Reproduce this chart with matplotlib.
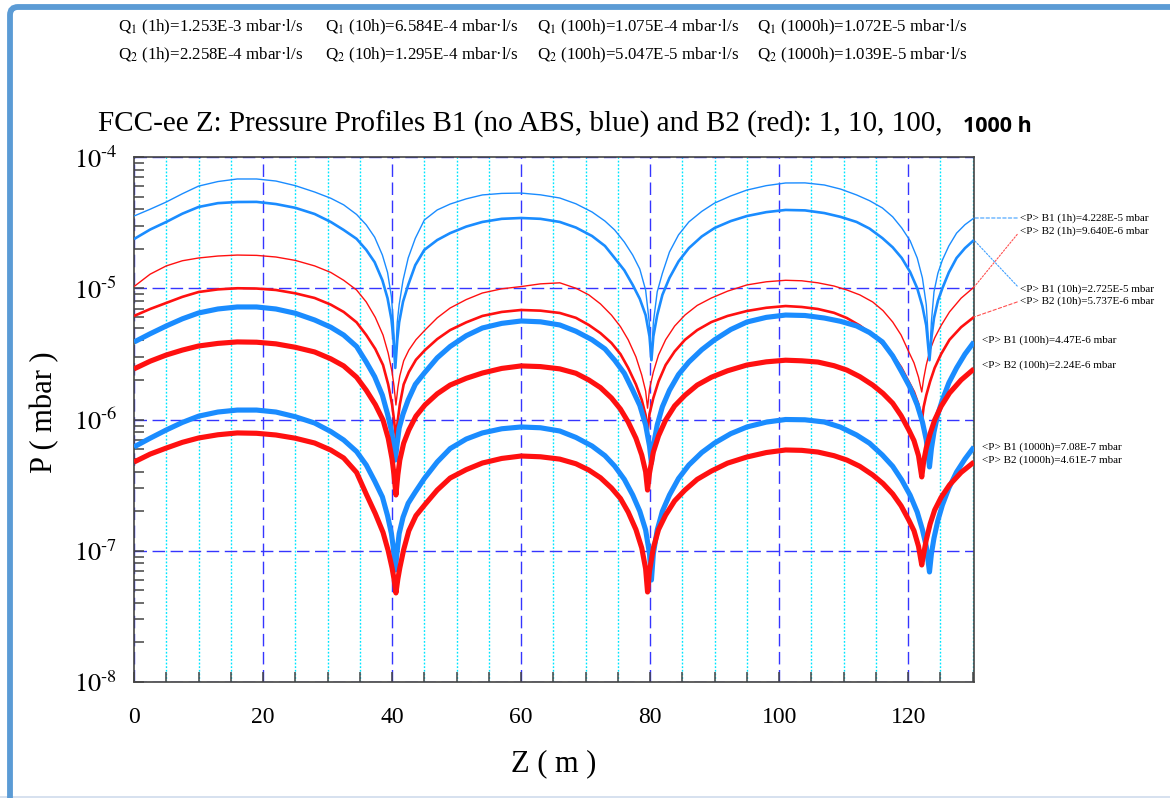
import matplotlib
matplotlib.use('Agg')
import matplotlib.pyplot as plt
from matplotlib.patches import FancyBboxPatch
from matplotlib.lines import Line2D
from matplotlib.transforms import IdentityTransform
from matplotlib.ticker import FixedLocator, LogLocator, NullFormatter, FixedFormatter

plt.rcParams['font.family'] = ['Liberation Serif', 'DejaVu Serif']
plt.rcParams['mathtext.fontset'] = 'stix'

# ---------------- data ----------------
z_b1 = [0, 2.5, 5, 7.5, 10, 13, 16, 19, 22, 25, 28, 30.5, 32.5, 34.5, 36, 37.3, 38.5, 39.3, 39.9, 40.2, 40.5,
        40.8, 41.1, 41.7, 42.5, 43.6, 45, 47, 49, 51.5, 54, 57, 60, 63, 66, 68.5, 71, 73, 74.5, 76, 77.3,
        78.4, 79.3, 79.9, 80.2,
        80.5, 81.1, 81.9, 83, 84.4, 86, 88, 90, 92.5, 95, 98, 101, 104, 107, 109.5, 112, 114, 116, 117.6,
        119, 120.3, 121.4, 122.2, 122.8, 123.3,
        123.6, 124.0, 124.6, 125.3, 126.3, 127.5, 128.8, 130.2]
b1_1h = [3.55e-5, 4.0e-5, 4.54e-5, 5.25e-5, 6.0e-5, 6.5e-5, 6.8e-5, 6.8e-5, 6.56e-5, 6.05e-5, 5.41e-5, 4.85e-5,
         4.32e-5, 3.65e-5, 3.04e-5, 2.45e-5, 1.79e-5, 1.32e-5, 8.6e-6, 5.5e-6, 2.74e-6,
         5.5e-6, 7.5e-6, 1.15e-5, 1.70e-5, 2.4e-5, 3.31e-5, 3.95e-5, 4.38e-5, 4.8e-5, 5.14e-5, 5.28e-5,
         5.31e-5, 5.15e-5, 4.87e-5, 4.4e-5, 3.81e-5, 3.25e-5, 2.78e-5, 2.25e-5, 1.79e-5, 1.4e-5, 9.7e-6,
         5.3e-6, 2.83e-6,
         5.5e-6, 9.4e-6, 1.3e-5, 1.89e-5, 2.55e-5, 3.2e-5, 3.85e-5, 4.46e-5, 5.05e-5, 5.6e-5, 6.05e-5,
         6.34e-5, 6.35e-5, 6.12e-5, 5.7e-5, 5.14e-5, 4.65e-5, 4.09e-5, 3.5e-5, 2.88e-5, 2.3e-5, 1.70e-5,
         1.2e-5, 7.5e-6, 2.94e-6,
         5.6e-6, 9.4e-6, 1.3e-5, 1.64e-5, 2.1e-5, 2.63e-5, 3.05e-5, 3.43e-5]
b1_10h = [2.37e-5, 2.8e-5, 3.2e-5, 3.7e-5, 4.16e-5, 4.45e-5, 4.54e-5, 4.55e-5, 4.38e-5, 4.1e-5, 3.68e-5,
          3.2e-5, 2.78e-5, 2.38e-5, 1.96e-5, 1.58e-5, 1.15e-5, 8.4e-6, 5.8e-6, 4.2e-6, 2.47e-6,
          4.0e-6, 5.5e-6, 7.9e-6, 1.06e-5, 1.5e-5, 1.96e-5, 2.33e-5, 2.63e-5, 2.95e-5, 3.2e-5, 3.38e-5,
          3.43e-5, 3.38e-5, 3.2e-5, 2.9e-5, 2.5e-5, 2.1e-5, 1.7e-5, 1.37e-5, 1.06e-5, 8.3e-6, 6.25e-6,
          4.3e-6, 2.83e-6,
          4.3e-6, 6.25e-6, 8.9e-6, 1.2e-5, 1.6e-5, 2.02e-5, 2.48e-5, 2.88e-5, 3.25e-5, 3.55e-5, 3.8e-5,
          3.95e-5, 3.92e-5, 3.74e-5, 3.5e-5, 3.2e-5, 2.85e-5, 2.41e-5, 2.05e-5, 1.7e-5, 1.33e-5, 1.0e-5,
          7.3e-6, 5.2e-6, 2.83e-6,
          4.2e-6, 5.93e-6, 8.0e-6, 1.0e-5, 1.32e-5, 1.7e-5, 2.02e-5, 2.33e-5]
b1_100h = [3.89e-6, 4.5e-6, 5.16e-6, 5.85e-6, 6.48e-6, 6.95e-6, 7.2e-6, 7.2e-6, 6.95e-6, 6.45e-6, 5.73e-6,
           5.05e-6, 4.4e-6, 3.6e-6, 2.74e-6, 2.12e-6, 1.53e-6, 1.1e-6, 8.2e-7, 6.5e-7, 4.91e-7,
           6.6e-7, 8.6e-7, 1.1e-6, 1.41e-6, 1.85e-6, 2.26e-6, 2.95e-6, 3.6e-6, 4.35e-6, 4.98e-6, 5.4e-6,
           5.63e-6, 5.55e-6, 5.25e-6, 4.7e-6, 4.05e-6, 3.45e-6, 2.83e-6, 2.25e-6, 1.67e-6, 1.28e-6, 9.1e-7,
           6.3e-7, 4.66e-7,
           6.3e-7, 9.1e-7, 1.25e-6, 1.67e-6, 2.2e-6, 2.74e-6, 3.4e-6, 4.05e-6, 4.85e-6, 5.53e-6, 6.0e-6,
           6.25e-6, 6.2e-6, 5.93e-6, 5.6e-6, 5.16e-6, 4.6e-6, 3.9e-6, 3.05e-6, 2.3e-6, 1.75e-6, 1.29e-6,
           9.6e-7, 7.0e-7, 4.35e-7,
           6.0e-7, 8.03e-7, 1.1e-6, 1.41e-6, 1.9e-6, 2.47e-6, 3.15e-6, 3.9e-6]
b1_1000h = [6.18e-7, 7.2e-7, 8.32e-7, 9.5e-7, 1.06e-6, 1.14e-6, 1.18e-6, 1.18e-6, 1.14e-6, 1.05e-6, 9.4e-7,
            8.1e-7, 6.98e-7, 5.7e-7, 4.5e-7, 3.4e-7, 2.57e-7, 1.85e-7, 1.35e-7, 1.05e-7, 7.13e-8,
            1.0e-7, 1.35e-7, 1.8e-7, 2.3e-7, 2.8e-7, 3.55e-7, 4.75e-7, 6.0e-7, 7.1e-7, 7.9e-7, 8.5e-7,
            8.77e-7, 8.65e-7, 8.17e-7, 7.3e-7, 6.28e-7, 5.3e-7, 4.42e-7, 3.5e-7, 2.66e-7, 2.0e-7, 1.44e-7,
            9.5e-8, 5.98e-8,
            9.5e-8, 1.44e-7, 2.0e-7, 2.66e-7, 3.55e-7, 4.5e-7, 5.6e-7, 6.62e-7, 7.8e-7, 8.77e-7, 9.55e-7,
            1.0e-6, 9.95e-7, 9.57e-7, 8.75e-7, 7.62e-7, 6.6e-7, 5.36e-7, 4.4e-7, 3.46e-7, 2.65e-7, 1.97e-7,
            1.45e-7, 1.08e-7, 6.89e-8,
            9.5e-8, 1.25e-7, 1.7e-7, 2.23e-7, 3.0e-7, 3.98e-7, 5.0e-7, 6.18e-7]

z_b2 = [0, 2.5, 5, 7.5, 10, 13, 16, 19, 22, 25, 28, 30.5, 32.5, 34.5, 36, 37.4, 38.6, 39.4, 40.0, 40.3, 40.6,
        40.9, 41.2, 41.8, 42.6, 43.7, 45.1, 47, 49, 51.5, 54, 57, 60, 63, 66, 68.5, 70.5, 72.3, 74, 75.4,
        76.6, 77.8, 78.7, 79.3, 79.6,
        79.9, 80.5, 81.3, 82.4, 83.8, 85.4, 87.3, 89.5, 92, 95, 98, 101, 103.5, 106, 108.5, 110.5, 112.5,
        114.5, 116.1, 117.6, 118.9, 120.1, 120.9, 121.6, 122.1,
        122.4, 122.8, 123.4, 124.1, 125.1, 126.4, 128.2, 130.2]
b2_1h = [1.03e-5, 1.28e-5, 1.48e-5, 1.62e-5, 1.70e-5, 1.76e-5, 1.79e-5, 1.78e-5, 1.73e-5, 1.63e-5, 1.48e-5,
         1.32e-5, 1.15e-5, 9.7e-6, 7.86e-6, 6.0e-6, 4.4e-6, 3.2e-6, 2.3e-6, 1.8e-6, 1.29e-6,
         1.75e-6, 2.15e-6, 2.8e-6, 3.38e-6, 4.05e-6, 4.8e-6, 5.95e-6, 7.07e-6, 8.2e-6, 9.2e-6, 9.9e-6,
         1.03e-5, 1.08e-5, 1.10e-5, 1.0e-5, 8.9e-6, 7.6e-6, 6.25e-6, 5.1e-6, 4.05e-6, 3.0e-6, 2.18e-6,
         1.65e-6, 1.22e-6,
         1.7e-6, 2.3e-6, 3.1e-6, 4.05e-6, 5.15e-6, 6.25e-6, 7.4e-6, 8.43e-6, 9.5e-6, 1.06e-5, 1.12e-5,
         1.15e-5, 1.14e-5, 1.10e-5, 1.04e-5, 9.7e-6, 8.9e-6, 7.86e-6, 6.75e-6, 5.53e-6, 4.4e-6, 3.27e-6,
         2.7e-6, 2.1e-6, 1.62e-6,
         2.05e-6, 2.6e-6, 3.4e-6, 4.18e-6, 5.2e-6, 6.6e-6, 8.4e-6, 1.02e-5]
b2_10h = [6.15e-6, 6.95e-6, 7.73e-6, 8.6e-6, 9.36e-6, 9.8e-6, 1.0e-5, 9.95e-6, 9.7e-6, 9.15e-6, 8.43e-6,
          7.5e-6, 6.6e-6, 5.5e-6, 4.4e-6, 3.45e-6, 2.6e-6, 1.85e-6, 1.3e-6, 1.0e-6, 7.23e-7,
          1.0e-6, 1.3e-6, 1.85e-6, 2.3e-6, 2.85e-6, 3.38e-6, 4.1e-6, 4.8e-6, 5.5e-6, 6.15e-6, 6.6e-6,
          6.83e-6, 6.75e-6, 6.48e-6, 5.95e-6, 5.25e-6, 4.55e-6, 3.83e-6, 3.15e-6, 2.47e-6, 1.85e-6, 1.41e-6,
          1.08e-6, 8.03e-7,
          1.1e-6, 1.46e-6, 1.95e-6, 2.6e-6, 3.3e-6, 4.05e-6, 4.8e-6, 5.53e-6, 6.15e-6, 6.71e-6, 7.1e-6,
          7.32e-6, 7.2e-6, 6.95e-6, 6.5e-6, 5.93e-6, 5.2e-6, 4.4e-6, 3.75e-6, 3.1e-6, 2.5e-6, 1.93e-6,
          1.62e-6, 1.3e-6, 9.57e-7,
          1.25e-6, 1.53e-6, 1.95e-6, 2.47e-6, 3.15e-6, 4.05e-6, 5.05e-6, 6.04e-6]
b2_100h = [2.43e-6, 2.78e-6, 3.1e-6, 3.38e-6, 3.63e-6, 3.8e-6, 3.9e-6, 3.88e-6, 3.77e-6, 3.55e-6, 3.27e-6,
           2.9e-6, 2.56e-6, 2.1e-6, 1.67e-6, 1.3e-6, 9.9e-7, 7.2e-7, 5.0e-7, 3.8e-7, 2.66e-7,
           3.8e-7, 4.9e-7, 6.6e-7, 8.32e-7, 1.06e-6, 1.29e-6, 1.57e-6, 1.83e-6, 2.06e-6, 2.26e-6, 2.45e-6,
           2.56e-6, 2.53e-6, 2.43e-6, 2.25e-6, 2.0e-6, 1.75e-6, 1.46e-6, 1.2e-6, 9.57e-7, 7.2e-7, 5.36e-7,
           4.0e-7, 2.9e-7,
           3.9e-7, 5.65e-7, 7.5e-7, 9.9e-7, 1.27e-6, 1.53e-6, 1.83e-6, 2.1e-6, 2.35e-6, 2.6e-6, 2.75e-6,
           2.83e-6, 2.8e-6, 2.74e-6, 2.57e-6, 2.38e-6, 2.12e-6, 1.83e-6, 1.58e-6, 1.33e-6, 1.07e-6, 8.32e-7,
           6.9e-7, 5.3e-7, 3.65e-7,
           4.8e-7, 6.06e-7, 7.8e-7, 9.9e-7, 1.26e-6, 1.59e-6, 2.0e-6, 2.43e-6]
b2_1000h = [4.74e-7, 5.45e-7, 6.06e-7, 6.7e-7, 7.23e-7, 7.65e-7, 7.9e-7, 7.85e-7, 7.62e-7, 7.2e-7, 6.62e-7,
            5.85e-7, 5.09e-7, 3.95e-7, 2.7e-7, 1.92e-7, 1.38e-7, 1.0e-7, 7.4e-8, 6.1e-8, 4.77e-8,
            6.1e-8, 7.4e-8, 1.02e-7, 1.42e-7, 1.85e-7, 2.25e-7, 2.9e-7, 3.58e-7, 4.15e-7, 4.66e-7, 5.05e-7,
            5.27e-7, 5.2e-7, 4.99e-7, 4.6e-7, 4.12e-7, 3.6e-7, 3.01e-7, 2.5e-7, 1.97e-7, 1.45e-7, 1.05e-7,
            7.3e-8, 4.85e-8,
            7.0e-8, 1.05e-7, 1.45e-7, 1.87e-7, 2.4e-7, 2.9e-7, 3.5e-7, 4.05e-7, 4.65e-7, 5.18e-7, 5.6e-7,
            5.86e-7, 5.82e-7, 5.65e-7, 5.3e-7, 4.91e-7, 4.4e-7, 3.78e-7, 3.25e-7, 2.71e-7, 2.2e-7, 1.71e-7,
            1.42e-7, 1.08e-7, 7.79e-8,
            9.5e-8, 1.21e-7, 1.6e-7, 2.04e-7, 2.55e-7, 3.17e-7, 3.95e-7, 4.74e-7]

hours = ["1h", "10h", "100h", "1000h"]
q1_values = ["1.253E-3", "6.584E-4", "1.075E-4", "1.072E-5"]
q2_values = ["2.258E-4", "1.295E-4", "5.047E-5", "1.039E-5"]
b1_mean = ["4.228E-5", "2.725E-5", "4.47E-6", "7.08E-7"]
b2_mean = ["9.640E-6", "5.737E-6", "2.24E-6", "4.61E-7"]

x_tick_values = [0, 20, 40, 60, 80, 100, 120]
y_tick_labels = [r"$10^{\text{-}8}$", r"$10^{\text{-}7}$", r"$10^{\text{-}6}$",
                 r"$10^{\text{-}5}$", r"$10^{\text{-}4}$"]

# ---------------- figure ----------------
W, H = 1170, 798
fig = plt.figure(figsize=(W / 100, H / 100), dpi=100, facecolor='white')


def fx(px):
    return px / W


def fy(py):
    return 1 - py / H


ax = fig.add_axes([fx(134), fy(682), (974 - 134) / W, (682 - 157) / H])
ax.set_yscale('log')
ax.set_xlim(0, 130.2)
ax.set_ylim(1e-8, 1e-4)

BLUE = '#1a8cff'
RED = '#ff1010'
GRIDBLUE = '#3535ff'
CYAN = '#00e6ff'

ax.xaxis.set_major_locator(FixedLocator(x_tick_values))
ax.xaxis.set_minor_locator(FixedLocator([v for v in range(5, 131, 5) if v % 20 != 0]))
ax.set_xticklabels([str(v) for v in x_tick_values])
ax.yaxis.set_major_locator(FixedLocator([1e-8, 1e-7, 1e-6, 1e-5, 1e-4]))
ax.yaxis.set_major_formatter(FixedFormatter(y_tick_labels))
ax.yaxis.set_minor_locator(LogLocator(base=10, subs=range(2, 10), numticks=20))
ax.yaxis.set_minor_formatter(NullFormatter())

ax.grid(which='major', axis='both', color=GRIDBLUE, linestyle=(0, (9, 4)), linewidth=1.0)
ax.grid(which='minor', axis='x', color=CYAN, linestyle=(0, (1.3, 1.3)), linewidth=1.0)
ax.set_axisbelow(True)

ax.tick_params(which='both', direction='in', length=7.5, width=1.1, color='#444444',
               top=False, right=False)
ax.tick_params(axis='x', which='major', labelsize=17, pad=18)
ax.tick_params(axis='y', which='major', labelsize=19, pad=12)
for s in ax.spines.values():
    s.set_color('#444444')
    s.set_linewidth(1.2)

series = [
    (z_b1, b1_1h, BLUE, 1.0), (z_b2, b2_1h, RED, 1.0),
    (z_b1, b1_10h, BLUE, 1.9), (z_b2, b2_10h, RED, 1.9),
    (z_b1, b1_100h, BLUE, 3.7), (z_b2, b2_100h, RED, 3.7),
    (z_b1, b1_1000h, BLUE, 3.7), (z_b2, b2_1000h, RED, 3.7),
]
for zz, pp, col, lw in series:
    ax.plot(zz, pp, color=col, lw=lw, solid_joinstyle='round', solid_capstyle='butt', zorder=3)

# ---------------- legend-like labels on the right ----------------
lab_fs = 8
conn = [
    (z_b1, b1_1h, f"<P> B1 ({hours[0]})={b1_mean[0]} mbar", 218, '#3fa0ff', (0, (3, 2))),
    (z_b2, b2_1h, f"<P> B2 ({hours[0]})={b2_mean[0]} mbar", 231, '#ff5050', (0, (1.5, 1.5))),
    (z_b1, b1_10h, f"<P> B1 ({hours[1]})={b1_mean[1]} mbar", 289, '#3fa0ff', (0, (1.5, 1.5))),
    (z_b2, b2_10h, f"<P> B2 ({hours[1]})={b2_mean[1]} mbar", 301, '#ff5050', (0, (3, 2))),
]
for zz, pp, txt, ypix, col, ls in conn:
    ax.annotate(txt, xy=(zz[-1], pp[-1]), xycoords='data',
                xytext=(1020, H - ypix), textcoords='figure pixels',
                fontsize=lab_fs, ha='left', va='center', annotation_clip=False,
                arrowprops=dict(arrowstyle='-', color=col, lw=0.8, linestyle=ls,
                                shrinkA=0, shrinkB=0, relpos=(0, 0.5)))

plain = [
    (f"<P> B1 ({hours[2]})={b1_mean[2]} mbar", 340),
    (f"<P> B2 ({hours[2]})={b2_mean[2]} mbar", 365),
    (f"<P> B1 ({hours[3]})={b1_mean[3]} mbar", 447),
    (f"<P> B2 ({hours[3]})={b2_mean[3]} mbar", 460),
]
for txt, ypix in plain:
    fig.text(fx(982), fy(ypix), txt, fontsize=lab_fs, ha='left', va='center')

# ---------------- texts ----------------
col_x = [118, 325, 537, 757]
for i in range(4):
    fig.text(fx(col_x[i]), fy(27), f"Q$_{{1}}$ ({hours[i]})={q1_values[i]} mbar·l/s",
             fontsize=12.2, ha='left', va='center')
    fig.text(fx(col_x[i]), fy(55), f"Q$_{{2}}$ ({hours[i]})={q2_values[i]} mbar·l/s",
             fontsize=12.2, ha='left', va='center')

fig.text(fx(98), fy(124), "FCC-ee Z: Pressure Profiles B1 (no ABS, blue) and B2 (red): 1, 10, 100,",
         fontsize=21, ha='left', va='center')
fig.text(fx(963), fy(126), "1000 h", family=['Open Sans', 'DejaVu Sans'], weight='bold',
         fontsize=15.5, ha='left', va='center')

fig.text(fx(45), fy(412), "P ( mbar )", rotation=90, fontsize=22, ha='center', va='center')
fig.text(fx(554), fy(764), "Z ( m )", fontsize=22, ha='center', va='center')

# ---------------- slide frame ----------------
frame = FancyBboxPatch((10, -30), 1200, H - 7 + 30, boxstyle="round,pad=0,rounding_size=8",
                       transform=IdentityTransform(), fill=False, edgecolor='#5b9bd5',
                       linewidth=4.2, zorder=10)
fig.patches.append(frame)
fig.lines.append(Line2D([0, 1], [fy(797), fy(797)], transform=fig.transFigure,
                        color='#cfdcec', lw=1.2))

fig.savefig('out.png', dpi=100, facecolor='white')
